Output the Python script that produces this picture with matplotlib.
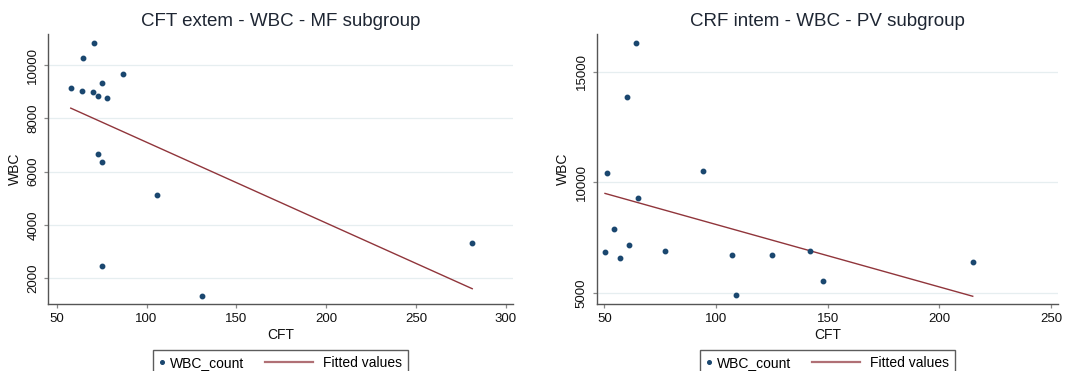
import numpy as np
import matplotlib
matplotlib.use("Agg")
import matplotlib.pyplot as plt
from matplotlib.lines import Line2D
from matplotlib.legend_handler import HandlerBase

plt.rcParams['font.family'] = ['Liberation Sans', 'DejaVu Sans']

# MF subgroup: CFT extem vs WBC
mf_cft = [57.8, 64.8, 70.9, 63.9, 70.0, 72.8, 75.0, 77.8, 86.9,
          72.8, 75.0, 105.8, 75.0, 130.7, 281.3]
mf_wbc = [9126, 10274, 10814, 9037, 9000, 8850, 9337, 8775, 9663,
          6674, 6362, 5125, 2474, 1325, 3337]

# PV subgroup: CRF intem vs WBC
pv_cft = [64.2, 60.3, 51.2, 94.2, 65.1, 54.2, 50.3, 61.2, 57.2,
          77.2, 107.0, 125.2, 142.1, 148.0, 109.1, 214.9]
pv_wbc = [16283, 13857, 10407, 10524, 9277, 7876, 6864, 7153, 6579,
          6909, 6715, 6700, 6896, 5526, 4910, 6416]

NAVY = '#1a476f'
MAROON = '#90353b'
GRID = '#e6eef0'
SPINE = '#555555'


class DotHandler(HandlerBase):
    # single small marker centred in a narrow handle box
    def create_artists(self, legend, orig, xdescent, ydescent, width, height,
                       fontsize, trans):
        ln = Line2D([-xdescent + width / 2], [height / 2 - ydescent],
                    marker='o', linestyle='none', color=orig.get_color(),
                    markersize=2.6, transform=trans)
        return [ln]


class LongLineHandler(HandlerBase):
    # line sample that reaches back into the column gap (Stata style)
    def create_artists(self, legend, orig, xdescent, ydescent, width, height,
                       fontsize, trans):
        x1 = -xdescent + width - 3.5
        x0 = x1 - 34.5
        y = height / 2 - ydescent
        ln = Line2D([x0, x1], [y, y], color='#b07075',
                    linewidth=1.6, transform=trans)
        return [ln]


def panel(ax, x, y, title, xticks, yticks, xlim, ylim):
    x = np.asarray(x, dtype=float)
    y = np.asarray(y, dtype=float)
    dots, = ax.plot(x, y, 'o', color=NAVY, markersize=3.2, linestyle='none',
                    label='WBC_count', zorder=3)
    b, a = np.polyfit(x, y, 1)
    xs = np.array([x.min(), x.max()])
    fit, = ax.plot(xs, a + b * xs, color=MAROON, linewidth=1.0,
                   label='Fitted values', zorder=2)

    ax.set_xlim(*xlim)
    ax.set_ylim(*ylim)
    ax.set_xticks(xticks)
    ax.set_yticks(yticks)
    ax.grid(axis='y', color=GRID, linewidth=0.9)
    ax.set_axisbelow(True)
    for s in ['top', 'right']:
        ax.spines[s].set_visible(False)
    for s in ['left', 'bottom']:
        ax.spines[s].set_color(SPINE)
        ax.spines[s].set_linewidth(1.0)
    ax.tick_params(colors='#888888', labelcolor='#111111', labelsize=9.5,
                   length=3, width=0.9)
    plt.setp(ax.get_yticklabels(), rotation=90, va='center')
    ax.set_title(title, fontsize=13.5, color='#1e2633', pad=6)
    ax.set_xlabel('CFT', fontsize=10, color='#111111', labelpad=2)
    ax.set_ylabel('WBC', fontsize=10, color='#111111', labelpad=4)
    return dots, fit


fig = plt.figure(figsize=(10.83, 3.71), dpi=100)
ax1 = fig.add_axes([0.0446, 0.1798, 0.4291, 0.7277])
ax2 = fig.add_axes([0.5510, 0.1798, 0.4262, 0.7277])

h1 = panel(ax1, mf_cft, mf_wbc, 'CFT extem - WBC - MF subgroup',
           [50, 100, 150, 200, 250, 300], [2000, 4000, 6000, 8000, 10000],
           (45.3, 304), (1025, 11151))
h2 = panel(ax2, pv_cft, pv_wbc, 'CRF intem - WBC - PV subgroup',
           [50, 100, 150, 200, 250], [5000, 10000, 15000],
           (46.6, 253.2), (4489, 16690))

for (dots, fit), left in [(h1, 153 / 1083), (h2, 700 / 1083)]:
    leg = fig.legend(handles=[dots, fit], loc='upper left',
                     bbox_to_anchor=(left, 1 - 350 / 371), ncol=2,
                     fontsize=10, frameon=True, fancybox=False,
                     handlelength=0.4, handletextpad=0.37,
                     columnspacing=4.9, borderpad=0.45, borderaxespad=0,
                     handler_map={dots: DotHandler(), fit: LongLineHandler()})
    leg.get_frame().set_edgecolor('#333333')
    leg.get_frame().set_linewidth(1.0)

fig.savefig('out.png', dpi=100)
